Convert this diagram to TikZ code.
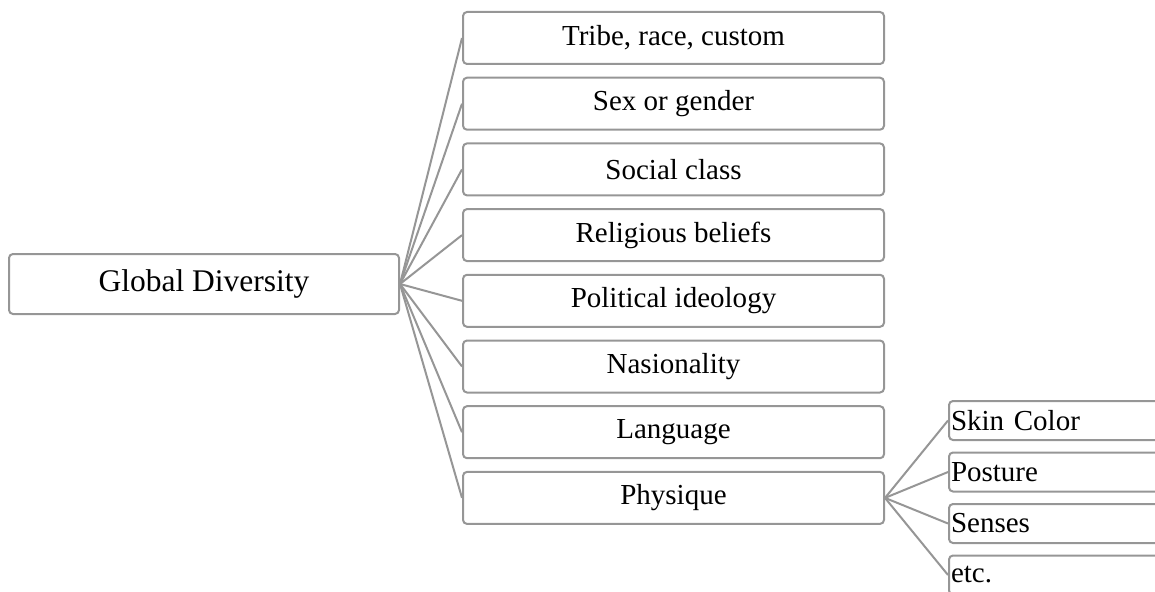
\documentclass[tikz,border=0pt]{standalone}
\usepackage{fontspec}
\setmainfont{Liberation Serif}
\usetikzlibrary{positioning}
\definecolor{edgegray}{RGB}{150,150,150}
\tikzset{
  every node/.style={font=\fontsize{29}{34}\selectfont},
  itembox/.style={draw=edgegray, line width=2pt, rounded corners=4pt,
    minimum width=421pt, minimum height=52pt, inner sep=0pt},
  rootbox/.style={itembox, minimum width=390pt, minimum height=60pt,
    font=\fontsize{31.5}{36}\selectfont},
  leafbox/.style={draw=edgegray, line width=2pt, rounded corners=4pt,
    minimum height=39pt, text width=246pt, align=left, inner xsep=2pt,
    inner ysep=0pt, anchor=west},
  link/.style={draw=edgegray, line width=2pt}
}
\begin{document}
\begin{tikzpicture}[x=1pt, y=-1pt]
    \useasboundingbox (0,0) rectangle (1155,591);
    \clip (0,0) rectangle (1155,591);

    % Root
    \node[rootbox] (root) at (204,284) {Global Diversity};

    % First level
    \foreach \name [count=\i] in {{Tribe, race, custom}, Sex or gender,
        Social class, Religious beliefs, Political ideology, Nasionality,
        Language, Physique} {
      \node[itembox] (b\i) at (673.5, {38+65.7*(\i-1)}) {\name};
      \draw[link] (root.east) -- (b\i.west);
    }

    % Second level
    \foreach \name [count=\i] in {Skin Color, Posture, Senses, etc.} {
      \node[leafbox] (s\i) at (948, {420.5+51.5*(\i-1)}) {\name};
      \draw[link] (b8.east) -- (s\i.west);
    }
\end{tikzpicture}
\end{document}
